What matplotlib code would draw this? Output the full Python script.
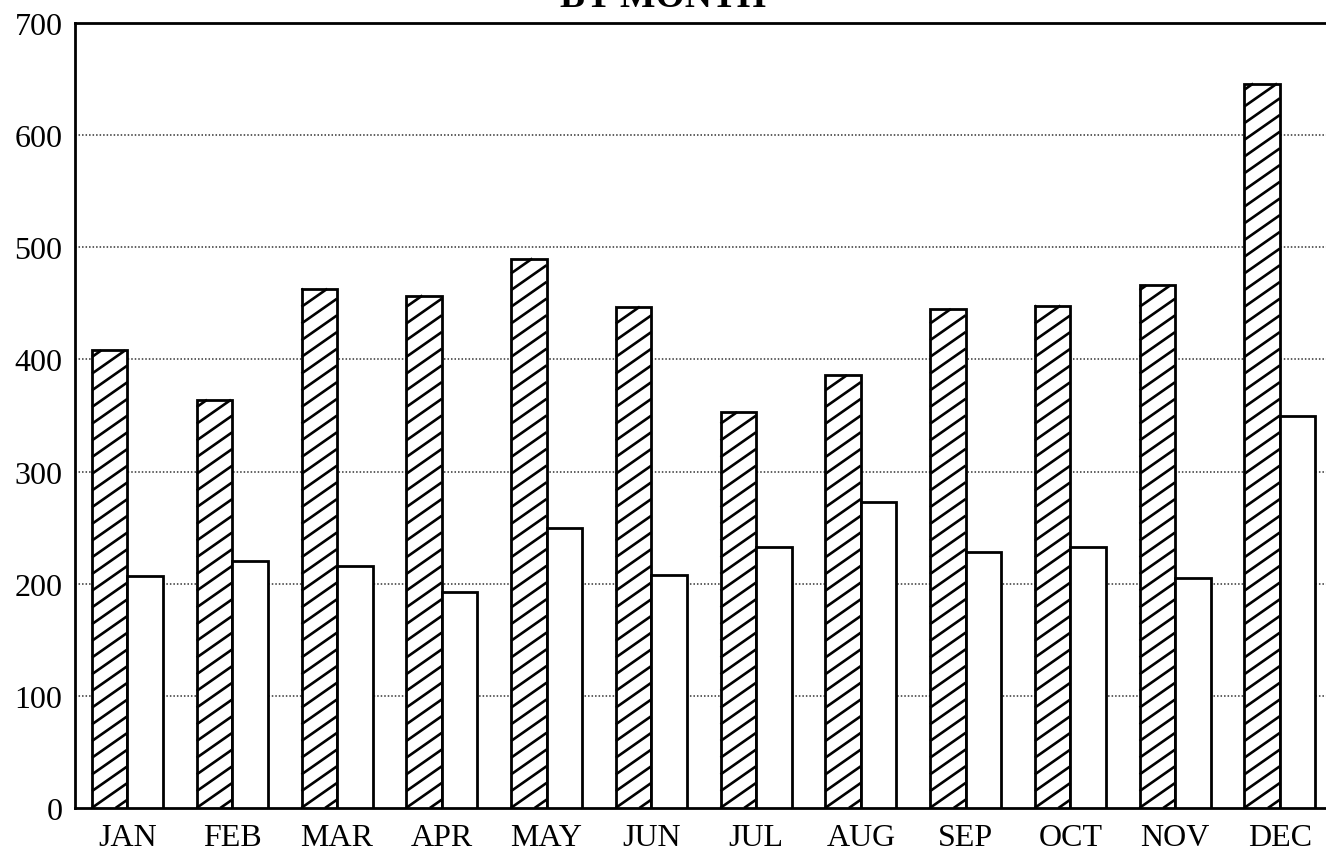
import numpy as np
import matplotlib
matplotlib.use("Agg")
import matplotlib.pyplot as plt
from matplotlib.collections import LineCollection

months = ["JAN", "FEB", "MAR", "APR", "MAY", "JUN",
          "JUL", "AUG", "SEP", "OCT", "NOV", "DEC"]
series_hatched = [408, 364, 463, 457, 490, 447, 353, 386, 445, 448, 466, 646]
series_plain = [207, 220, 216, 193, 250, 208, 233, 273, 228, 233, 205, 350]
y_ticks = [0, 100, 200, 300, 400, 500, 600, 700]

plt.rcParams["font.family"] = ["Liberation Serif", "DejaVu Serif"]

W, H = 1326, 854
fig = plt.figure(figsize=(W / 100, H / 100), dpi=100)
ax_left, ax_bottom, ax_top = 75, 809, 24
ax = fig.add_axes([ax_left / W, (H - ax_bottom) / H, 1 - ax_left / W,
                   (ax_bottom - ax_top) / H])

x = np.arange(len(months))
w = 0.339
xlim = (-0.501, 11.44)
ylim = (0, 700)
ax.set_xlim(*xlim)
ax.set_ylim(*ylim)

bars_h = ax.bar(x - w / 2, series_hatched, width=w, facecolor="white",
                edgecolor="black", linewidth=2.0, zorder=3)
ax.bar(x + w / 2, series_plain, width=w, facecolor="white", edgecolor="black",
       linewidth=2.0, zorder=3)

# diagonal hatching at a shallow angle, clipped to each hatched bar
px_per_x = (W - ax_left) / (xlim[1] - xlim[0])
px_per_y = (ax_bottom - ax_top) / (ylim[1] - ylim[0])
slope = np.tan(np.radians(35)) * px_per_x / px_per_y   # data units
step = 16.7 / px_per_y
segs = []
for bar in bars_h:
    xl = bar.get_x()
    xr = xl + bar.get_width()
    top = bar.get_height()
    c = -slope * (xr - xl) + step * 0.5
    while c < top:
        if c >= 0:
            x0, y0 = xl, c
        else:
            x0, y0 = xl - c / slope, 0.0
        y_end = c + slope * (xr - xl)
        if y_end <= top:
            x1, y1 = xr, y_end
        else:
            x1, y1 = xl + (top - c) / slope, top
        segs.append([(x0, y0), (x1, y1)])
        c += step
ax.add_collection(LineCollection(segs, colors="black", linewidths=1.9,
                                 capstyle="butt", zorder=4))

ax.set_yticks(y_ticks)
ax.set_xticks(x)
ax.set_xticklabels(months)
ax.tick_params(axis="both", length=0, labelsize=23)
ax.tick_params(axis="y", pad=9)
ax.tick_params(axis="x", pad=11)

for v in y_ticks[1:-1]:
    ax.axhline(v, color="#333333", linestyle=(0, (1, 1.3)), linewidth=1.1,
               zorder=1)

for side in ["left", "bottom", "top"]:
    ax.spines[side].set_linewidth(2.0)
ax.spines["right"].set_visible(False)

fig.text(663 / W, 1 - 7 / H, "BY MONTH", ha="center", va="baseline",
         fontsize=27, fontweight="bold")

fig.savefig("out.png", dpi=100)
